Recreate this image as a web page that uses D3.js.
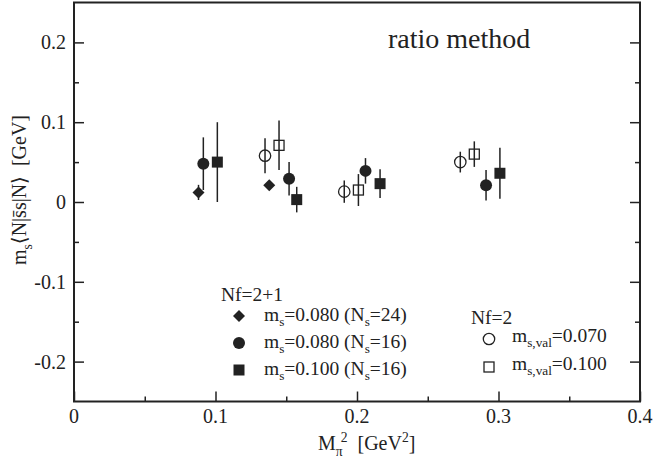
<!DOCTYPE html>
<html><head><meta charset="utf-8">
<script src="https://cdn.jsdelivr.net/npm/d3@7"></script>
<style>
html,body{margin:0;padding:0;background:#fff;}
svg{display:block;}
text{white-space:pre;fill:#222;font-family:"Liberation Serif","DejaVu Serif",serif;}
</style></head>
<body>
<svg id="chart" width="653" height="466"></svg>
<script>
// ---- data ----
const xTicks = [0, 0.1, 0.2, 0.3, 0.4];
const xTickLabels = ["0", "0.1", "0.2", "0.3", "0.4"];
const xMinor = [0.05, 0.15, 0.25, 0.35];
const yTicks = [-0.2, -0.1, 0, 0.1, 0.2];
const yTickLabels = ["-0.2", "-0.1", "0", "0.1", "0.2"];
const yMinor = [-0.15, -0.05, 0.05, 0.15];

// Nf=2+1, m_s=0.080 (N_s=24) : diamonds
const dia_x = [0.088, 0.138];
const dia_y = [0.012, 0.021];
const dia_e = [0.0095, 0.003];
// Nf=2+1, m_s=0.080 (N_s=16) : filled circles
const fc_x = [0.0914, 0.152, 0.206, 0.2912];
const fc_y = [0.048, 0.029, 0.039, 0.021];
const fc_e = [0.033, 0.021, 0.016, 0.019];
// Nf=2+1, m_s=0.100 (N_s=16) : filled squares
const fs_x = [0.1013, 0.1574, 0.2163, 0.301];
const fs_y = [0.050, 0.003, 0.023, 0.036];
const fs_e = [0.050, 0.016, 0.018, 0.032];
// Nf=2, m_s,val=0.070 : open circles
const oc_x = [0.135, 0.191, 0.273];
const oc_y = [0.058, 0.013, 0.050];
const oc_e = [0.022, 0.014, 0.013];
// Nf=2, m_s,val=0.100 : open squares
const os_x = [0.1449, 0.201, 0.2829];
const os_y = [0.071, 0.015, 0.060];
const os_e = [0.031, 0.020, 0.016];

// ---- layout ----
const L = 74, R = 640, T = 2.5, B = 401.5;
const svg = d3.select("#chart");
const x = d3.scaleLinear().domain([0, 0.4]).range([L, R]);
const y = d3.scaleLinear().domain([-0.25, 0.25]).range([B, T]);
const ink = "#222";
const FONT = "Liberation Serif";

// ticks (inward)
function tickAxis(axisGen, vals, size, transform) {
  const g = svg.append("g").attr("transform", transform)
    .call(axisGen.tickValues(vals).tickSize(size).tickFormat(""));
  g.select(".domain").remove();
  g.selectAll(".tick line").attr("stroke", ink).attr("stroke-width", 1.5);
  g.selectAll(".tick text").remove();
  return g;
}
tickAxis(d3.axisBottom(x), xTicks, -10, `translate(0,${B})`);
tickAxis(d3.axisBottom(x), xMinor, -5, `translate(0,${B})`);
tickAxis(d3.axisLeft(y), yTicks, -10, `translate(${L},0)`);
tickAxis(d3.axisLeft(y), yMinor, -5, `translate(${L},0)`);
tickAxis(d3.axisRight(y), yTicks, -10, `translate(${R},0)`);
tickAxis(d3.axisRight(y), yMinor, -5, `translate(${R},0)`);

// tick labels
svg.append("g").selectAll("text").data(xTicks).join("text")
  .attr("x", d => x(d)).attr("y", B + 21)
  .attr("text-anchor", "middle").attr("font-size", 20).attr("font-family", FONT)
  .text((d, i) => xTickLabels[i]);
svg.append("g").selectAll("text").data(yTicks).join("text")
  .attr("x", L - 8).attr("y", d => y(d) + 7)
  .attr("text-anchor", "end").attr("font-size", 20).attr("font-family", FONT)
  .text((d, i) => yTickLabels[i]);

// frame
svg.append("rect").attr("x", L).attr("y", T).attr("width", R - L).attr("height", B - T)
  .attr("fill", "none").attr("stroke", ink).attr("stroke-width", 2);

// rich text helper
function rich(el, parts, fs) {
  let cur = 0;
  el.attr("font-family", FONT);
  parts.forEach(p => {
    const sh = p.sub ? fs * 0.28 : p.sup ? -fs * 0.42 : 0;
    const ts = el.append("tspan").text(p.t).attr("dy", sh - cur)
      .attr("font-size", (p.sub || p.sup) ? fs * 0.68 : fs);
    if (p.dx) ts.attr("dx", p.dx);
    cur = sh;
  });
}

// axis titles
const xt = svg.append("text").attr("x", 318).attr("y", 450).attr("font-size", 20);
rich(xt, [{t:"M"},{t:"π",sub:true},{t:"2",sup:true,dx:-2},{t:"  [GeV"},{t:"2",sup:true},{t:"]"}], 20);

const yt = svg.append("text").attr("transform", "translate(26,190) rotate(-90)")
  .attr("text-anchor", "middle").attr("font-size", 20);
rich(yt, [{t:"m"},{t:"s",sub:true},{t:"⟨N|s\u0304s|N⟩  [GeV]"}], 20);

svg.append("text").attr("x", 388).attr("y", 48).attr("font-size", 28).attr("font-family", FONT).text("ratio method");

// ---- data marks ----
function series(xs, ys, es, drawMarker) {
  const d = xs.map((v, i) => ({x: v, y: ys[i], e: es[i]}));
  const g = svg.append("g");
  g.selectAll("line").data(d).join("line")
    .attr("x1", p => x(p.x)).attr("x2", p => x(p.x))
    .attr("y1", p => y(p.y + p.e)).attr("y2", p => y(p.y - p.e))
    .attr("stroke", ink).attr("stroke-width", 1.5);
  d.forEach(p => drawMarker(g, x(p.x), y(p.y)));
}
const mk = {
  diamond: (g, cx, cy) => g.append("path")
    .attr("d", `M${cx},${cy-6}L${cx+6},${cy}L${cx},${cy+6}L${cx-6},${cy}Z`).attr("fill", ink),
  fcircle: (g, cx, cy) => g.append("circle").attr("cx", cx).attr("cy", cy).attr("r", 6).attr("fill", ink),
  fsquare: (g, cx, cy) => g.append("rect").attr("x", cx-5.5).attr("y", cy-5.5).attr("width", 11).attr("height", 11).attr("fill", ink),
  ocircle: (g, cx, cy) => g.append("circle").attr("cx", cx).attr("cy", cy).attr("r", 5.7)
    .attr("fill", "none").attr("stroke", ink).attr("stroke-width", 1.3),
  osquare: (g, cx, cy) => g.append("rect").attr("x", cx-5).attr("y", cy-5).attr("width", 10).attr("height", 10)
    .attr("fill", "none").attr("stroke", ink).attr("stroke-width", 1.3)
};
series(dia_x, dia_y, dia_e, mk.diamond);
series(fc_x, fc_y, fc_e, mk.fcircle);
series(fs_x, fs_y, fs_e, mk.fsquare);
series(oc_x, oc_y, oc_e, mk.ocircle);
series(os_x, os_y, os_e, mk.osquare);

// ---- legend ----
const lg = svg.append("g");
lg.append("text").attr("x", 221).attr("y", 301).attr("font-size", 19.5).attr("font-family", FONT).text("Nf=2+1");
const leg1 = [
  {m: mk.diamond, y: 316, parts: [{t:"m"},{t:"s",sub:true},{t:"=0.080 (N"},{t:"s",sub:true},{t:"=24)"}]},
  {m: mk.fcircle, y: 343, parts: [{t:"m"},{t:"s",sub:true},{t:"=0.080 (N"},{t:"s",sub:true},{t:"=16)"}]},
  {m: mk.fsquare, y: 370, parts: [{t:"m"},{t:"s",sub:true},{t:"=0.100 (N"},{t:"s",sub:true},{t:"=16)"}]}
];
leg1.forEach(r => {
  r.m(lg, 239, r.y);
  const t = lg.append("text").attr("x", 264).attr("y", r.y + 5).attr("font-size", 19.5);
  rich(t, r.parts, 19.5);
});
lg.append("text").attr("x", 471).attr("y", 324).attr("font-size", 19.5).attr("font-family", FONT).text("Nf=2");
const leg2 = [
  {m: mk.ocircle, y: 339, parts: [{t:"m"},{t:"s,val",sub:true},{t:"=0.070"}]},
  {m: mk.osquare, y: 367, parts: [{t:"m"},{t:"s,val",sub:true},{t:"=0.100"}]}
];
leg2.forEach(r => {
  r.m(lg, 489, r.y);
  const t = lg.append("text").attr("x", 512).attr("y", r.y + 3).attr("font-size", 19.5);
  rich(t, r.parts, 19.5);
});
</script>
</body></html>
